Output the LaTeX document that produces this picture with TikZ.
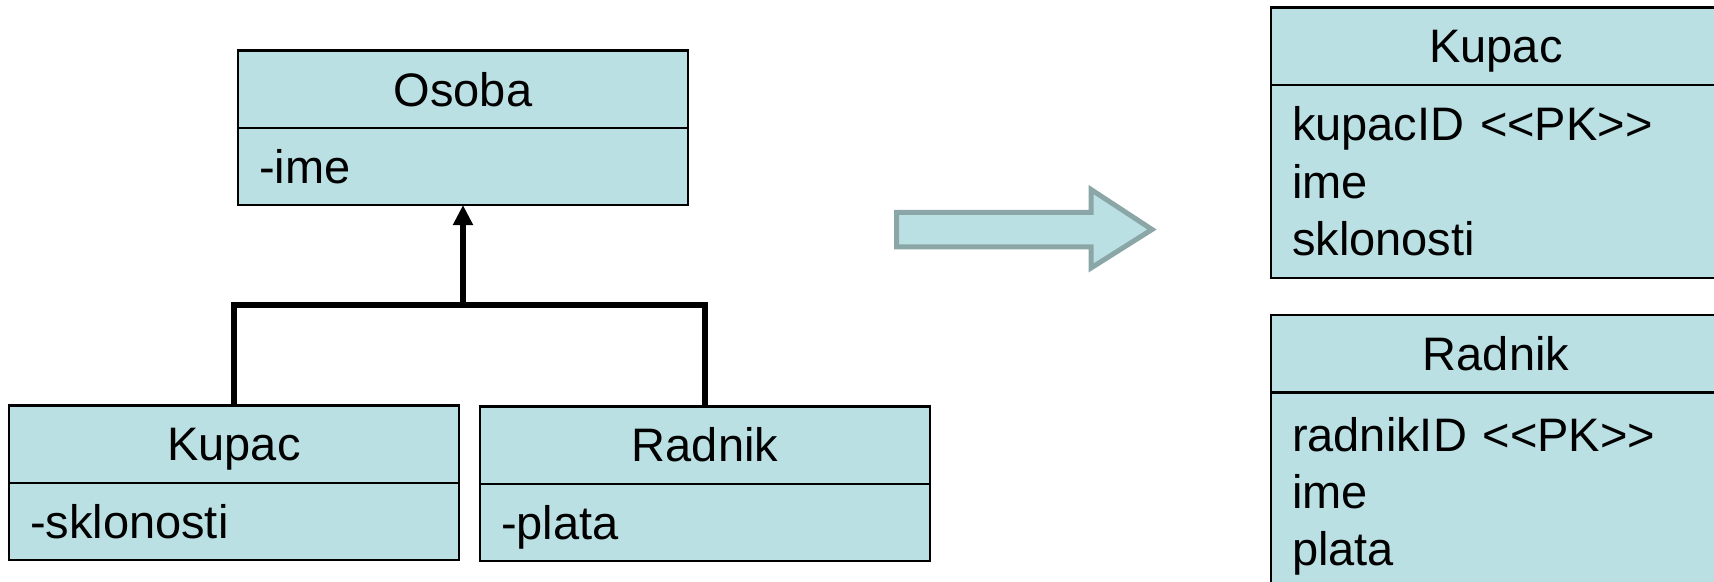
\documentclass[tikz,border=0pt]{standalone}
\usepackage{fontspec}
\setmainfont{Liberation Sans}
\usetikzlibrary{positioning,arrows.meta}
\definecolor{boxfill}{RGB}{187,224,227}
\definecolor{arrowline}{RGB}{138,166,167}
\begin{document}
\begin{tikzpicture}[x=0.5pt,y=-0.5pt,
    every node/.style={font=\fontsize{23.5pt}{28.75pt}\selectfont},
    head/.style={draw=black,line width=1.2pt,fill=boxfill,outer sep=0pt,inner sep=0pt,
      minimum width=225pt,minimum height=38.7pt,text height=16.8pt,text depth=0pt},
    attr/.style={head,minimum height=38.5pt,inner xsep=10.5pt,text width=204pt,align=left},
    cols/.style={draw=black,line width=1.2pt,fill=boxfill,outer sep=0pt,inner ysep=0pt,
      inner xsep=10.5pt,text width=204pt,align=left,minimum height=96.65pt},
    inherit/.style={line width=3pt},
    bigarrow/.style={line width=2.5pt,draw=arrowline,fill=boxfill}]
    \useasboundingbox (0,0) rectangle (1714,582);
    \clip (0,0) rectangle (1714,582);
    % class diagram
    \node[head] (osoba) at (463,89.35) {Osoba};
    \node[attr,below=0pt of osoba] (osobaAttr) {-ime};
    \node[head] (kupac) at (234,444.2) {Kupac};
    \node[attr,below=0pt of kupac] (kupacAttr) {-sklonosti};
    \node[head] (radnik) at (705,445.2) {Radnik};
    \node[attr,below=0pt of radnik] (radnikAttr) {-plata};
    \coordinate (fork) at (463,305.5);
    \draw[inherit] (kupac.north) |- (fork) -| (radnik.north);
    \draw[inherit,-{Triangle[length=10pt,width=9.5pt]}] (fork) -- (osobaAttr.south);
    % mapping arrow
    \draw[bigarrow] (896.5,212.5) -- (1091,212.5) -- (1091,189.5) -- (1152,229.5)
      -- (1091,268) -- (1091,247) -- (896.5,247) -- cycle;
    % tables
    \node[head] (kupacTab) at (1496,46.15) {Kupac};
    \node[cols,below=0pt of kupacTab] (kupacCols) {kupacID <{}<PK>{}>\\ime\\sklonosti};
    \node[head] (radnikTab) at (1496,353.65) {Radnik};
    \node[cols,below=0pt of radnikTab,minimum height=104pt] (radnikCols) {radnikID <{}<PK>{}>\\ime\\plata};
  \end{tikzpicture}
\end{document}
